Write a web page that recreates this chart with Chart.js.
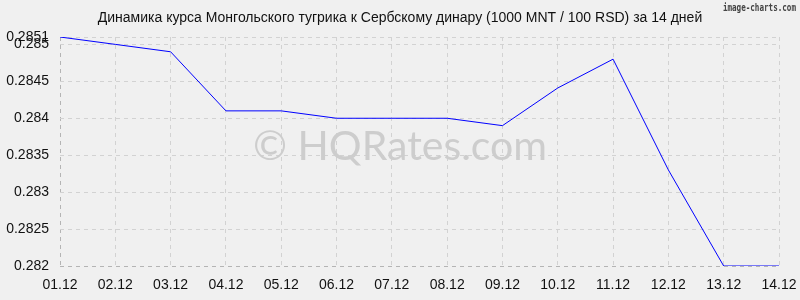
<!DOCTYPE html>
<html><head><meta charset="utf-8">
<script src="https://cdn.jsdelivr.net/npm/chart.js@4/dist/chart.umd.min.js"></script>
<style>html,body{margin:0;padding:0;background:#f0f0f0}#wrap{width:800px;height:300px}</style>
</head><body><div id="wrap"><canvas id="c" width="800" height="300"></canvas></div>
<script>
const categories = ["01.12","02.12","03.12","04.12","05.12","06.12","07.12","08.12","09.12","10.12","11.12","12.12","13.12","14.12"];
const rates = [0.2851,0.2850,0.2849,0.2841,0.2841,0.2840,0.2840,0.2840,0.2839,0.28441,0.2848,0.2833,0.2820,0.2820];
const yTicks = [0.282,0.2825,0.283,0.2835,0.284,0.2845,0.285,0.2851];
const titleText = "Динамика курса Монгольского тугрика к Сербскому динару (1000 MNT / 100 RSD) за 14 дней";
const watermark = "© HQRates.com";
const brand = "image-charts.com";

const deco = {
  id:'deco',
  beforeDraw(chart){
    const ctx=chart.ctx; ctx.save(); ctx.fillStyle='#f0f0f0'; ctx.fillRect(0,0,chart.width,chart.height);
    ctx.font='14px "Liberation Sans", Arial, sans-serif';
    ctx.fillStyle='#111'; ctx.textAlign='center'; ctx.textBaseline='middle';
    ctx.fillText(titleText,400,18);
    ctx.restore();
  },
  beforeDatasetsDraw(chart){
    const ctx=chart.ctx; ctx.save();
    ctx.font='41px Lato, "Liberation Sans", Arial, sans-serif';
    ctx.fillStyle='#cdcdcd'; ctx.textAlign='center'; ctx.textBaseline='middle';
    ctx.fillText(watermark,400,147);
    ctx.restore();
  },
  afterDraw(chart){
    const ctx=chart.ctx; ctx.save();
    ctx.translate(796,8); ctx.scale(0.69,1);
    ctx.font='bold 11px "DejaVu Sans Mono", monospace';
    ctx.fillStyle='#444'; ctx.textAlign='right'; ctx.textBaseline='middle';
    ctx.fillText(brand,0,0);
    ctx.restore();
  }
};

new Chart(document.getElementById('c'),{
  type:'line',
  data:{labels:categories,datasets:[{data:rates,borderColor:'#0000ff',borderWidth:1,pointRadius:0,tension:0,fill:false}]},
  options:{
    responsive:false,animation:false,
    layout:{padding:{left:0,right:21,top:37,bottom:0}},
    plugins:{legend:{display:false},tooltip:{enabled:false},title:{display:false}},
    scales:{
      x:{offset:false,
        grid:{color:(c)=>c.index===0?'#b4b4b4':'#d2d2d2',drawTicks:false,tickLength:0},
        border:{display:false,dash:[4,4]},
        ticks:{color:'#111',padding:11,maxRotation:0,autoSkip:false,font:{family:'"Liberation Sans", Arial, sans-serif',size:14}},
        afterFit(s){s.height=34;s.paddingRight=0;s.paddingLeft=0;}
      },
      y:{min:0.282,max:0.2851,
        afterBuildTicks(s){s.ticks=yTicks.map(v=>({value:v}));},
        grid:{color:(c)=>c.index===0?'#b4b4b4':'#d2d2d2',drawTicks:false,tickLength:0},
        border:{display:false,dash:[4,4]},
        ticks:{color:'#111',padding:11,font:{family:'"Liberation Sans", Arial, sans-serif',size:14},callback:(v)=>String(+v.toFixed(4))},
        afterFit(s){s.width=60;s.paddingTop=0;s.paddingBottom=0;}
      }
    }
  },
  plugins:[deco]
});
</script></body></html>
